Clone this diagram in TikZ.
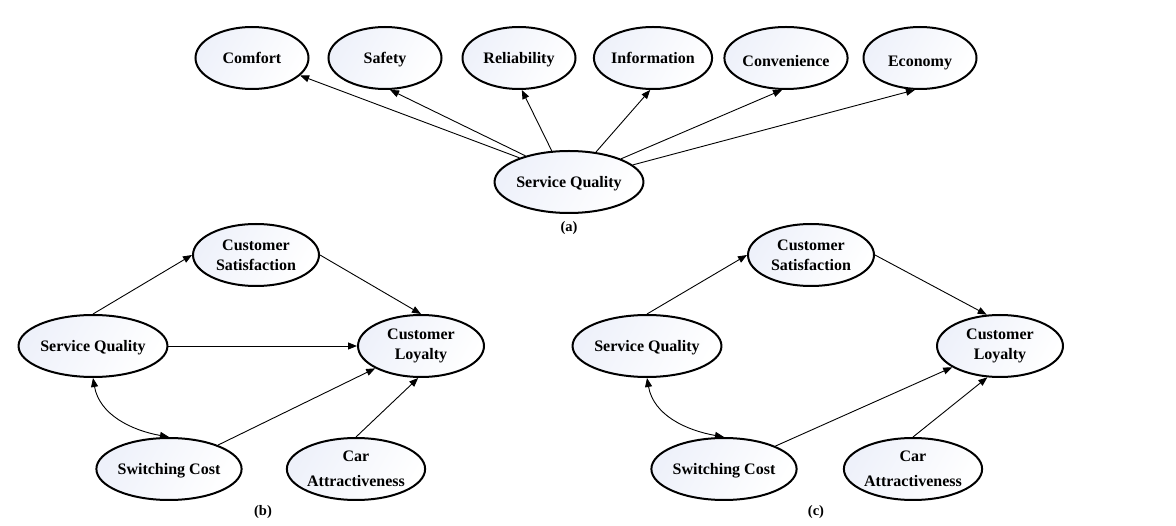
\documentclass[tikz,border=0pt]{standalone}
\usepackage{fontspec}
\setmainfont{Liberation Serif}
\usetikzlibrary{shapes.geometric,arrows.meta}
\definecolor{fillc}{HTML}{EEF1FA}
\tikzset{
  ell/.style={ellipse, draw=black, line width=2pt, shading=axis, left color=fillc, right color=white, shading angle=60,
    minimum width=126pt, minimum height=62pt, inner sep=0pt, align=center,
    font=\bfseries\fontsize{16}{20}\selectfont},
  one/.style={text height=11pt, text depth=0pt},
  topell/.style={ell, one, minimum width=113pt},
  sqell/.style={ell, one, minimum width=145pt},
  arr/.style={line width=0.9pt, -{Triangle[length=9pt,width=7pt]}},
  darr/.style={line width=0.9pt, {Triangle[length=9pt,width=7pt]}-{Triangle[length=9pt,width=7pt]}},
  figlabel/.style={font=\bfseries\fontsize{14.5}{16}\selectfont}
}
\begin{document}
\begin{tikzpicture}[x=1pt,y=1pt]
\useasboundingbox (0,0) rectangle (1176,-526);
% (a)
\node[topell] (comfort) at (252,-58) {Comfort};
\node[topell] (safety) at (385,-58) {Safety};
\node[topell] (rel) at (519,-58) {Reliability};
\node[topell] (info) at (653,-58) {Information};
\node[topell] (conv) at (786,-58) {\raisebox{-3pt}{Convenience}};
\node[topell] (econ) at (920,-58) {\raisebox{-3pt}{Economy}};
\node[sqell] (sqa) at (569,-182) {Service Quality};
\node[figlabel] (la) at (569,-228) {(a)};
\draw[arr] (sqa.154) -- (comfort.-20);
\draw[arr] (sqa.149) -- (safety.-81);
\draw[arr] (sqa.119) -- (rel.-85);
\draw[arr] (sqa.48) -- (info.-95);
\draw[arr] (sqa.24) -- (conv.-97);
\draw[arr] (sqa.15) -- (econ.-99);
% (b)
\node[ell] (csb) at (256,-255) {Customer\\Satisfaction};
\node[ell, one] (sqb) at (93,-346) {Service Quality};
\node[ell] (clb) at (421,-346) {Customer\\Loyalty};
\node[ell, one] (scb) at (169,-469) {Switching Cost};
\node[ell] (cab) at (356,-469) {Car\\[5pt]Attractiveness};
\node[figlabel] (lb) at (263,-512) {(b)};
\draw[arr] (sqb.north) -- (csb.west);
\draw[arr] (csb.east) -- (clb.north);
\draw[arr] (sqb.east) -- (clb.west);
\draw[darr] (sqb.south) to[out=-80, in=170] (scb.north);
\draw[arr] (scb) -- (clb);
\draw[arr] (cab.north) -- (clb.265);
% (c)
\node[ell] (csc) at (811,-255) {Customer\\Satisfaction};
\node[ell, one] (sqc) at (647,-346) {Service Quality};
\node[ell] (clc) at (1000,-346) {Customer\\Loyalty};
\node[ell, one] (scc) at (724,-469) {Switching Cost};
\node[ell] (cac) at (913,-469) {Car\\[5pt]Attractiveness};
\node[figlabel] (lc) at (816,-512) {(c)};
\draw[arr] (sqc.north) -- (csc.west);
\draw[arr] (csc.east) -- (clc.113);
\draw[darr] (sqc.south) to[out=-80, in=170] (scc.north);
\draw[arr] (scc) -- (clc);
\draw[arr] (cac.north) -- (clc.248);
\end{tikzpicture}
\end{document}
